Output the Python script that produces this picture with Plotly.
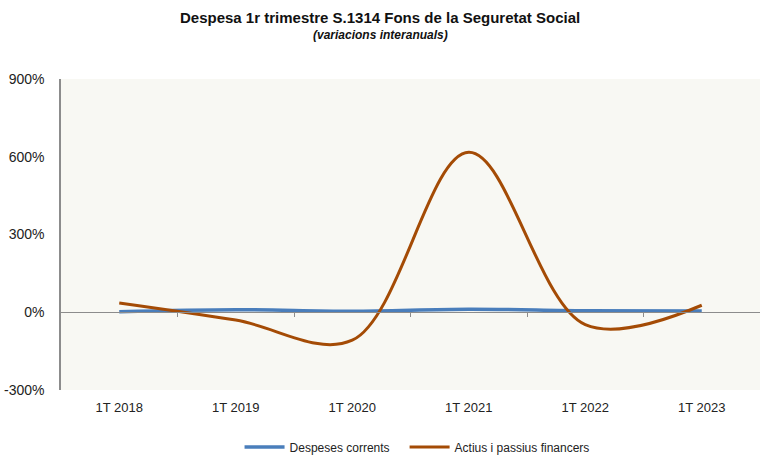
import plotly.graph_objects as go

# categories and values (year-on-year change, %)
quarters = ["1T 2018", "1T 2019", "1T 2020", "1T 2021", "1T 2022", "1T 2023"]
despeses_corrents = [2, 10, 4, 12, 6, 5]
actius_passius = [36, -30, -108, 617, -48, 27]

y_ticks = [-300, 0, 300, 600, 900]
y_labels = [f"{v}%" for v in y_ticks]

W, H = 760, 457
M_L, M_R, M_T, M_B = 61, 0, 79, 67

FONT = "Liberation Sans, Arial, sans-serif"
BLUE = "#4A7EBB"
BROWN = "#A44B05"

x_idx = list(range(len(quarters)))
pad = "\u00a0" * 3  # a bit more room between legend entries

fig = go.Figure()
fig.add_trace(go.Scatter(
    x=x_idx, y=despeses_corrents, name="Despeses corrents" + pad,
    mode="lines", line=dict(color=BLUE, width=3.5, shape="spline", smoothing=1),
))
fig.add_trace(go.Scatter(
    x=x_idx, y=actius_passius, name="Actius i passius financers",
    mode="lines", line=dict(color=BROWN, width=3, shape="spline", smoothing=1),
))

# zero axis with boundary ticks
fig.add_trace(go.Scatter(x=[0], y=[0], xaxis="x2", showlegend=False,
                         mode="markers", marker=dict(opacity=0), hoverinfo="skip"))

y_min, y_max = y_ticks[0], y_ticks[-1]
zero_pos = (0 - y_min) / (y_max - y_min)

fig.update_layout(
    width=W, height=H,
    margin=dict(l=M_L, r=M_R, t=M_T, b=M_B, autoexpand=False),
    paper_bgcolor="white",
    plot_bgcolor="#F8F8F3",
    font=dict(family=FONT, size=13, color="#222222"),
    xaxis=dict(
        range=[-0.5, len(quarters) - 0.5],
        tickvals=x_idx, ticktext=quarters,
        showgrid=False, zeroline=False, showline=False,
        ticks="", ticklabelstandoff=8, automargin=False,
        tickfont=dict(size=13),
    ),
    xaxis2=dict(
        overlaying="x", anchor="free", position=zero_pos,
        range=[-0.5, len(quarters) - 0.5],
        tickvals=[i + 0.5 for i in x_idx[:-1]],
        showticklabels=False, ticks="outside", ticklen=4,
        tickcolor="#8C8C8C", tickwidth=1,
        showline=True, linecolor="#8C8C8C", linewidth=1,
        showgrid=False, zeroline=False, automargin=False,
    ),
    yaxis=dict(
        range=[y_min, y_max], tickvals=y_ticks, ticktext=y_labels,
        showgrid=False, zeroline=False,
        showline=True, linecolor="#8C8C8C", linewidth=1.5,
        ticks="", ticklabelstandoff=12, automargin=False,
        tickfont=dict(size=14),
    ),
    legend=dict(
        orientation="h", x=(W / 2 - M_L) / (W - M_L - M_R) + 0.053, xanchor="center",
        y=-(447 - (H - M_B)) / (H - M_T - M_B), yanchor="middle",
        font=dict(size=12), itemwidth=40, traceorder="normal",
        bgcolor="rgba(0,0,0,0)",
    ),
    annotations=[
        dict(text="<b>Despesa 1r trimestre S.1314 Fons de la Seguretat Social</b>",
             xref="paper", yref="paper",
             x=(W / 2 - M_L) / (W - M_L - M_R),
             y=1 + (M_T - 17) / (H - M_T - M_B),
             showarrow=False, xanchor="center", yanchor="middle",
             font=dict(size=15, color="#111111")),
        dict(text="<b><i>(variacions interanuals)</i></b>",
             xref="paper", yref="paper",
             x=(W / 2 - M_L) / (W - M_L - M_R),
             y=1 + (M_T - 35) / (H - M_T - M_B),
             showarrow=False, xanchor="center", yanchor="middle",
             font=dict(size=12, color="#111111")),
    ],
    showlegend=True,
)

# the page's default body margin would shift the figure by 8px
fig.write_html("out.html", config={"displayModeBar": False},
               post_script="document.body.style.margin='0';")
